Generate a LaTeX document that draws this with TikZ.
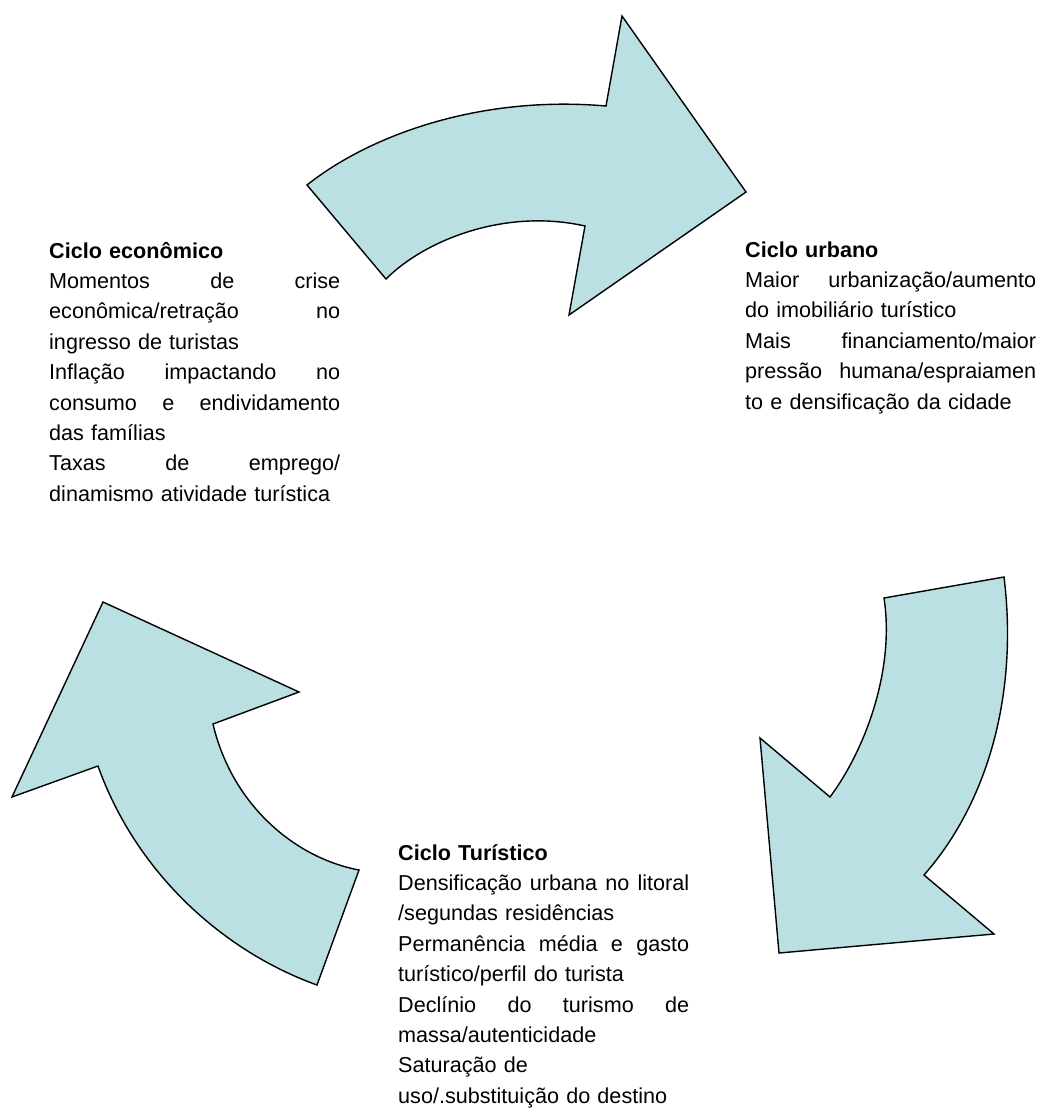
\documentclass[tikz,border=0pt]{standalone}
\usepackage{fontspec}
\setmainfont{Liberation Sans}
\definecolor{pfeilblau}{RGB}{186,224,227}

\begin{document}
\begin{tikzpicture}[
    x=1pt, y=-1pt,
    font=\fontsize{21.6}{30.4}\selectfont,
    % Styles für Konsistenz
    pfeil/.style={draw=black, line width=1.4pt, fill=pfeilblau, line join=miter},
    zyklus/.style={anchor=base west, text width=291pt, align=left, inner sep=0pt}
]
\useasboundingbox (0,0) rectangle (1040,1109);

% --- PFEIL OBEN ---
\draw[pfeil] (307,185) .. controls (370,135) and (480,95) .. (606,106)
    -- (622,16) -- (746,192) -- (569,315) -- (585,226)
    .. controls (505,208) and (425,240) .. (386,279) -- cycle;

% --- PFEIL RECHTS ---
\draw[pfeil] (1004,577) .. controls (1018,690) and (990,800) .. (924,875)
    -- (994,934) -- (779,953) -- (760,738) -- (830,797)
    .. controls (865,750) and (895,670) .. (884,598) -- cycle;

% --- PFEIL LINKS ---
\draw[pfeil] (103,602) -- (299,692) -- (213,724)
    .. controls (232,805) and (295,858) .. (359,870)
    -- (317,985) .. controls (220,950) and (135,870) .. (98,766)
    -- (12,797) -- cycle;

% --- TEXTE ---
\node[zyklus] (econ) at (49,258) {\textbf{Ciclo econômico}\\
    Momentos\hfill de\hfill crise\\
    econômica/retração\hfill no\\
    ingresso de turistas\\
    Inflação\hfill impactando\hfill no\\
    consumo\hfill e\hfill endividamento\\
    das famílias\\
    Taxas\hfill de\hfill emprego/\\
    dinamismo atividade turística};

\node[zyklus] (urb) at (745,257) {\textbf{Ciclo urbano}\\
    Maior\hfill urbanização/aumento\\
    do imobiliário turístico\\
    Mais\hfill financiamento/maior\\
    pressão\hfill humana/espraiamen\\
    to e densificação da cidade};

\node[zyklus] (tur) at (398,860) {\textbf{Ciclo Turístico}\\
    Densificação\hfill urbana\hfill no\hfill litoral\\
    /segundas residências\\
    Permanência\hfill média\hfill e\hfill gasto\\
    turístico/perfil do turista\\
    Declínio\hfill do\hfill turismo\hfill de\\
    massa/autenticidade\\
    Saturação de\\
    uso/.substituição do destino};

\end{tikzpicture}
\end{document}
